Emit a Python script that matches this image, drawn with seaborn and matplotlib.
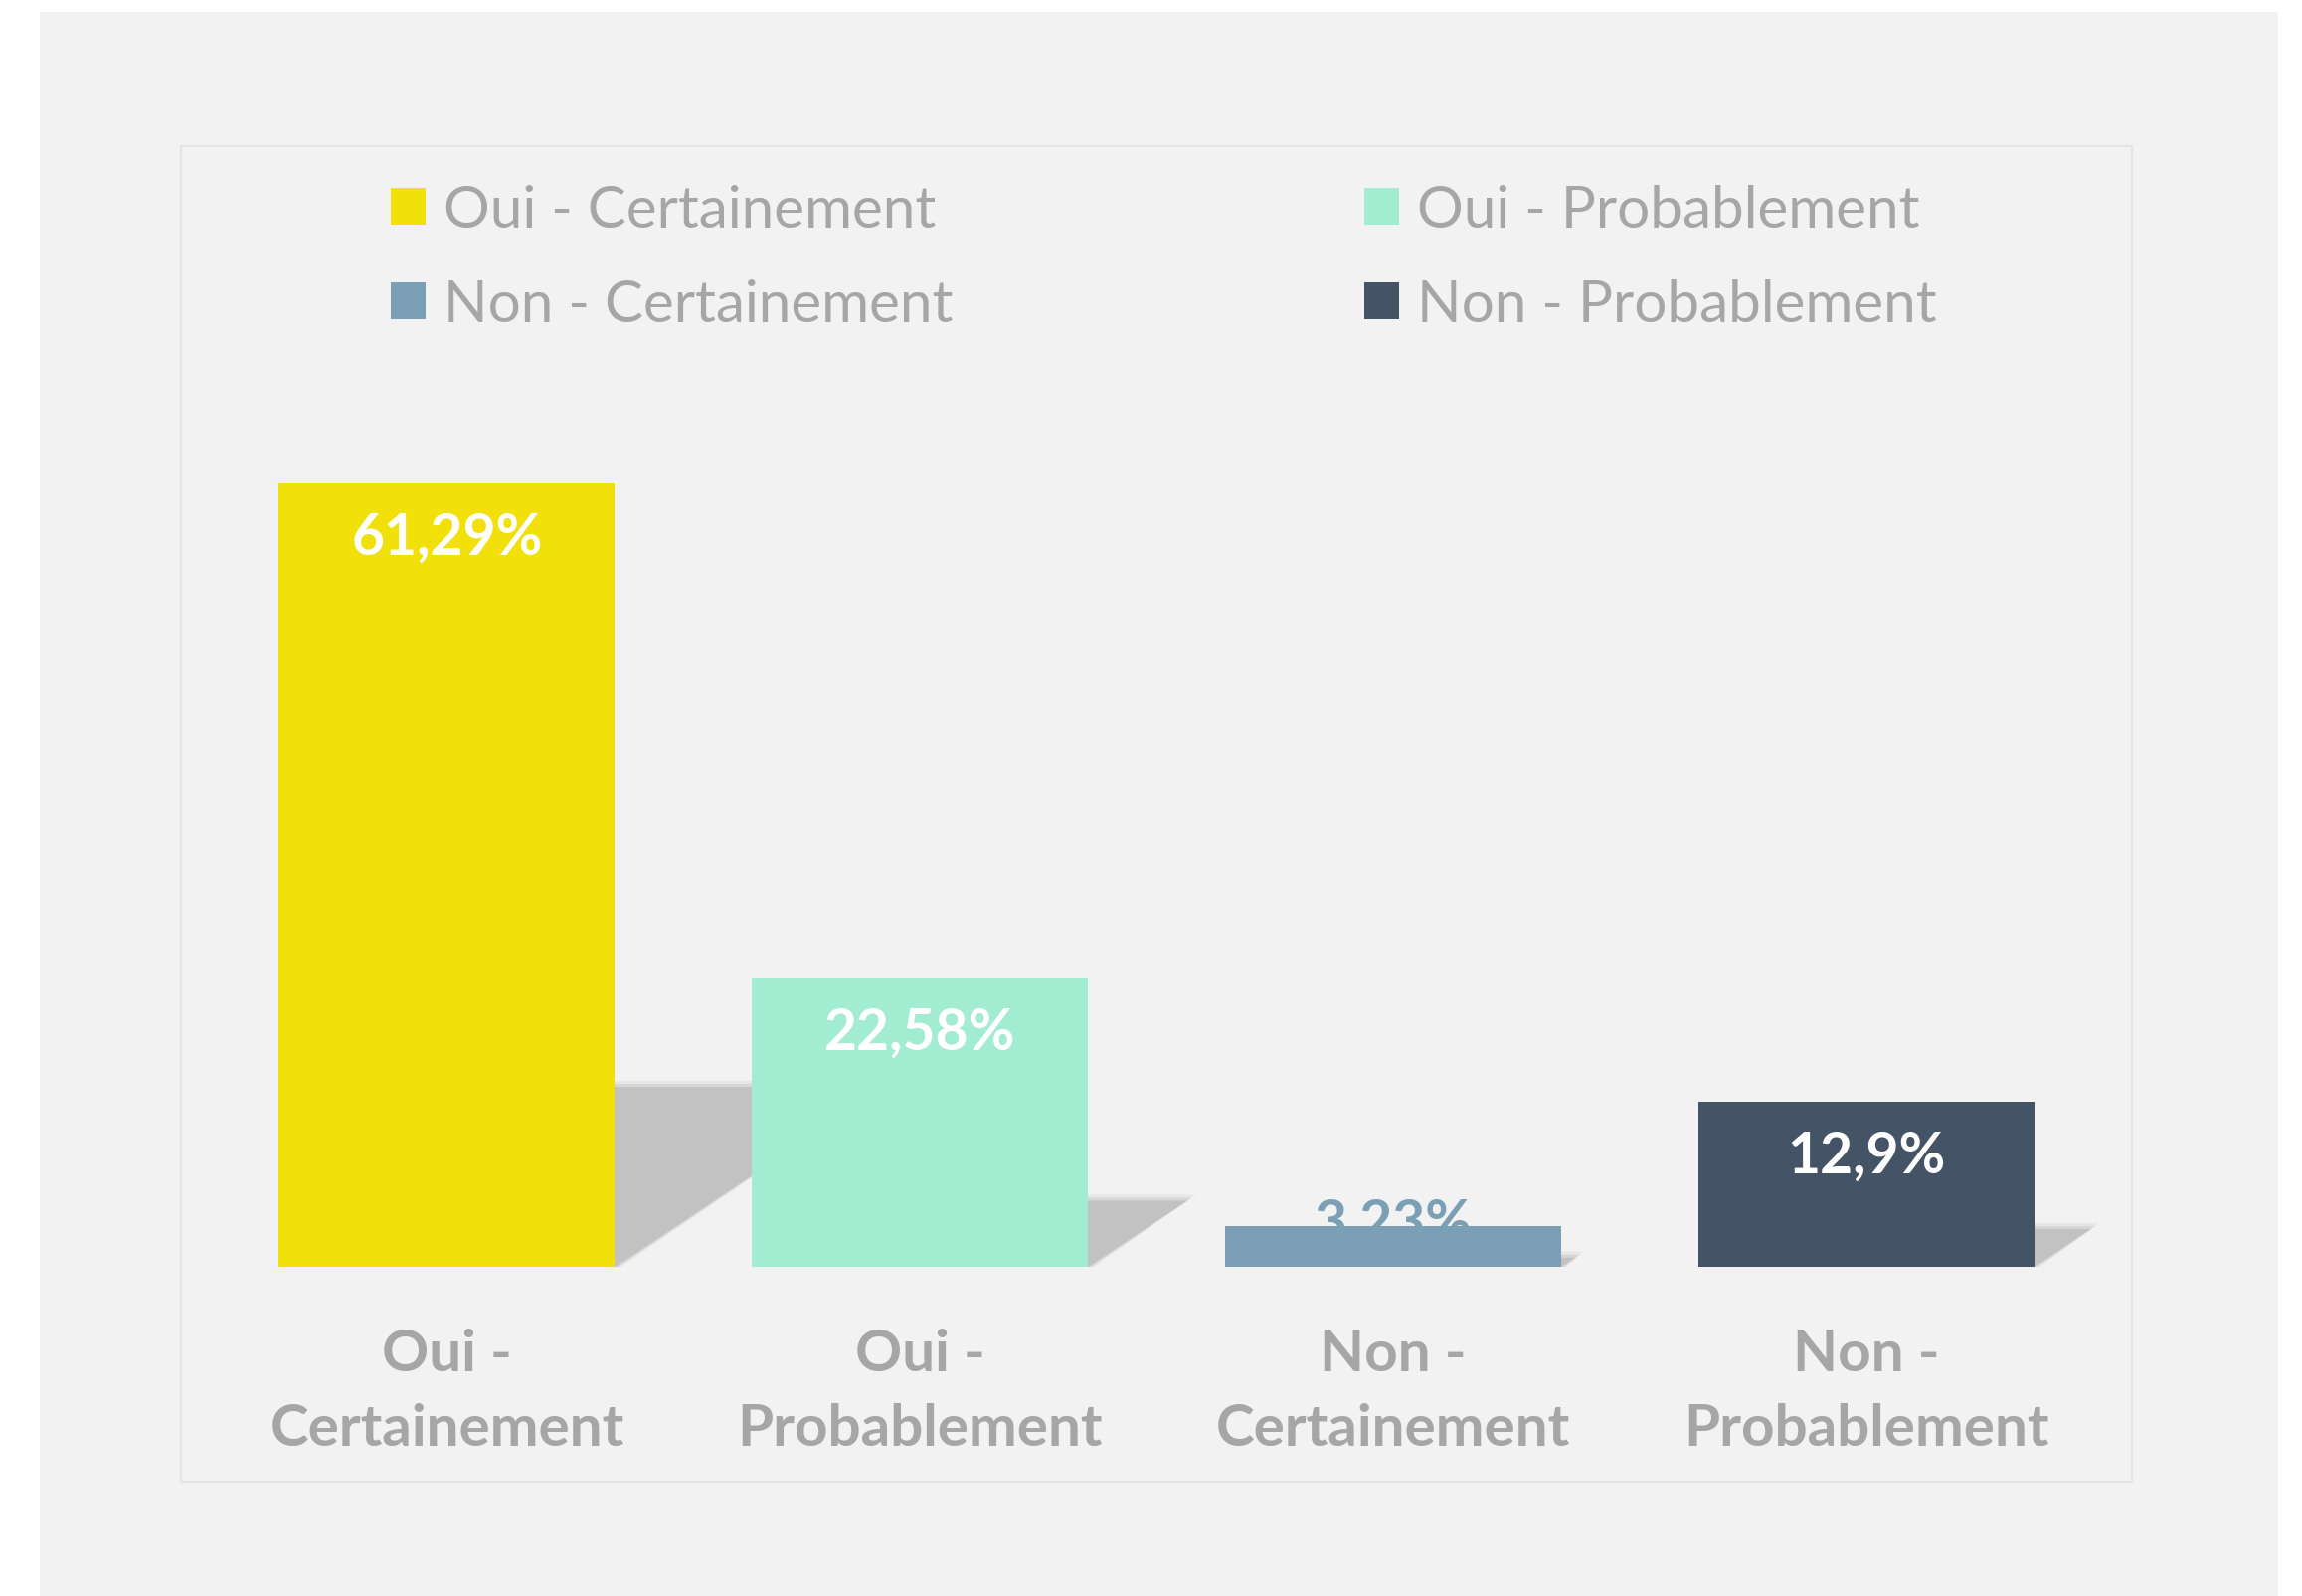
import matplotlib
matplotlib.use("Agg")
import matplotlib.pyplot as plt
from matplotlib.patches import Rectangle, Polygon, Patch
import seaborn as sns
import pandas as pd

# ---- data ----
categories = ["Oui - Certainement", "Oui - Probablement", "Non - Certainement", "Non - Probablement"]
tick_labels = ["Oui -\nCertainement", "Oui -\nProbablement", "Non -\nCertainement", "Non -\nProbablement"]
values = [61.29, 22.58, 3.23, 12.9]
value_labels = ["61,29%", "22,58%", "3,23%", "12,9%"]
colors = ["#F2E00A", "#A2ECD2", "#7B9FB4", "#445366"]
legend_order = [0, 2, 1, 3]  # row-wise layout in 2 columns

W, H, DPI = 2315, 1606, 100
sns.set_theme(style="white")
plt.rcParams["font.family"] = ["Lato", "DejaVu Sans"]

TEXT_GRAY = "#A6A6A6"

fig = plt.figure(figsize=(W / DPI, H / DPI), dpi=DPI, facecolor="white")

# grey chart panel and plot-area frame
fig.patches.append(Rectangle((40 / W, 0), (2291 - 40) / W, (1606 - 13) / H,
                             transform=fig.transFigure, facecolor="#F2F2F2",
                             edgecolor="none", zorder=-10))
fig.patches.append(Rectangle((182 / W, 1 - 1491 / H), (2144 - 182) / W, (1491 - 148) / H,
                             transform=fig.transFigure, facecolor="none",
                             edgecolor="#E4E4E4", linewidth=1.5, zorder=-9))

ax = fig.add_axes([211.5 / W, 1 - 1275.3 / H, 1903 / W, 900 / H])
ax.set_facecolor("none")

df = pd.DataFrame({"cat": categories, "val": values})
sns.barplot(data=df, x="cat", y="val", hue="cat", palette=colors, order=categories,
            hue_order=categories, width=0.71, legend=False, ax=ax, saturation=1,
            linewidth=0, edgecolor="none", zorder=2)

ax.set_xlim(-0.5, len(categories) - 0.5)
ax.set_ylim(0, 70)

# perspective floor shadow behind each bar (derived from bar geometry)
fig.canvas.draw()
p0 = ax.transData.transform((0, 0))
p1 = ax.transData.transform((1, 1))
xpx = p1[0] - p0[0]
ypx = p1[1] - p0[1]
bars = list(ax.patches)
for bar in bars:
    x0 = bar.get_x()
    x1 = x0 + bar.get_width()
    h = bar.get_height()
    sh = 0.23 * h
    dx = 1.5 * sh * ypx / xpx
    for grow, a in [(0.012, 0.22), (0.006, 0.45), (0.0, 1.0)]:
        poly = Polygon([(x0, 0), (x1 + grow, 0), (x1 + dx + grow * 1.5, sh + grow * 40),
                        (x0 + dx, sh + grow * 40)],
                       closed=True, facecolor="#C2C2C2", edgecolor="none",
                       alpha=a, zorder=1)
        ax.add_patch(poly)

# value labels
for bar, lab, col, v in zip(bars, value_labels, colors, values):
    cx = bar.get_x() + bar.get_width() / 2
    if v > 8:
        ax.annotate(lab, (cx, v), xytext=(0, -20), textcoords="offset points",
                    ha="center", va="top", color="white", fontsize=41,
                    fontweight="bold", zorder=5)
    else:
        ax.annotate(lab, (cx, v), xytext=(0, 2), textcoords="offset points",
                    ha="center", va="center", color=col, fontsize=41,
                    fontweight="bold", zorder=1.5)

ax.set_xticks(range(len(categories)))
ax.set_xticklabels(tick_labels, fontsize=42, fontweight="bold", color=TEXT_GRAY,
                   linespacing=1.5)
ax.tick_params(axis="x", length=0, pad=44)
ax.set_yticks([])
ax.set_xlabel("")
ax.set_ylabel("")
for s in ax.spines.values():
    s.set_visible(False)

handles = [Patch(facecolor=colors[i], edgecolor="none") for i in legend_order]
labels = [categories[i] for i in legend_order]
leg = fig.legend(handles, labels, ncol=2, loc="upper left",
                 bbox_to_anchor=(393 / W, 1 - 186 / H), bbox_transform=fig.transFigure,
                 frameon=False, fontsize=42, handlelength=0.6, handleheight=0.6,
                 handletextpad=0.3, columnspacing=7.1, labelspacing=0.72,
                 borderpad=0, borderaxespad=0)
for t in leg.get_texts():
    t.set_color(TEXT_GRAY)

fig.savefig("out.png", dpi=DPI, facecolor="white")
